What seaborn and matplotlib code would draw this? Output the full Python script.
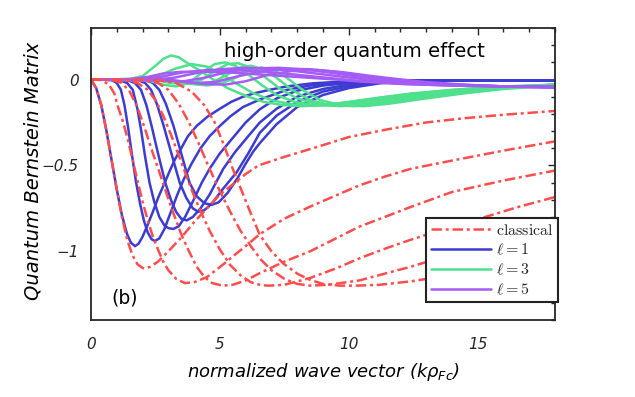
import numpy as np
import pandas as pd
import matplotlib
matplotlib.use("Agg")
import matplotlib.pyplot as plt
from matplotlib.lines import Line2D
from matplotlib.ticker import MultipleLocator, FuncFormatter
import seaborn as sns

# ---------------- data ----------------
# classical (red, dash-dot)
R1_x = [0, 0.2, 0.4, 0.6, 0.8, 1.0, 1.2, 1.4, 1.6, 1.8, 2.0, 2.1, 2.3, 2.6, 3.0, 3.5, 4.0, 4.5, 5.0, 5.5, 6.0, 6.5, 7.5, 8.5, 10, 11.5, 13, 14.5, 16, 18]
R1_y = [0, -0.05, -0.15, -0.30, -0.47, -0.64, -0.80, -0.93, -1.02, -1.075, -1.097, -1.10, -1.09, -1.06, -1.00, -0.92, -0.83, -0.75, -0.67, -0.61, -0.55, -0.50, -0.45, -0.405, -0.335, -0.29, -0.25, -0.225, -0.205, -0.183]
R2_x = [0, 0.4, 0.7, 0.9, 1.05, 1.25, 1.43, 1.62, 1.82, 2.0, 2.2, 2.4, 2.6, 2.8, 3.0, 3.3, 3.64, 4.0, 4.5, 5.1, 5.5, 6.0, 6.55, 7.5, 8.5, 9.5, 10.4, 11.4, 12.4, 14, 16, 18]
R2_y = [0, -0.003, -0.03, -0.08, -0.16, -0.25, -0.35, -0.47, -0.60, -0.71, -0.82, -0.915, -0.99, -1.06, -1.11, -1.16, -1.185, -1.18, -1.15, -1.08, -1.03, -0.97, -0.90, -0.81, -0.74, -0.675, -0.617, -0.565, -0.52, -0.472, -0.414, -0.36]
R3_x = [0, 0.8, 1.2, 1.5, 1.8, 2.1, 2.4, 2.61, 2.9, 3.2, 3.5, 3.8, 4.1, 4.4, 4.7, 5.1, 5.5, 6.0, 6.55, 7.5, 8.5, 9.5, 10.4, 11.4, 12.4, 14, 16, 18]
R3_y = [0, -0.002, -0.02, -0.07, -0.16, -0.29, -0.43, -0.52, -0.65, -0.78, -0.90, -1.00, -1.09, -1.15, -1.185, -1.20, -1.195, -1.17, -1.127, -1.06, -1.00, -0.925, -0.857, -0.80, -0.742, -0.655, -0.588, -0.53]
R4_x = [0, 1.3, 1.8, 2.2, 2.5, 2.8, 3.1, 3.35, 3.6, 3.9, 4.2, 4.6, 5.0, 5.4, 5.8, 6.2, 6.6, 6.9, 7.5, 8.49, 9.5, 10.43, 11.4, 12.36, 13.5, 15.08, 16.5, 18]
R4_y = [0, -0.003, -0.02, -0.06, -0.12, -0.21, -0.32, -0.42, -0.52, -0.64, -0.75, -0.88, -0.99, -1.08, -1.14, -1.18, -1.197, -1.20, -1.195, -1.156, -1.10, -1.04, -0.985, -0.935, -0.88, -0.81, -0.745, -0.684]
R5_x = [0, 2.0, 2.6, 3.0, 3.4, 3.8, 4.2, 4.6, 5.0, 5.4, 5.8, 6.2, 6.6, 7.0, 7.5, 8.0, 8.5, 9.2, 10.4, 11.4, 12.4, 13.5, 15, 16.5, 18]
R5_y = [0, -0.003, -0.02, -0.06, -0.14, -0.25, -0.38, -0.52, -0.65, -0.77, -0.88, -0.97, -1.05, -1.11, -1.16, -1.19, -1.20, -1.195, -1.17, -1.13, -1.09, -1.04, -0.97, -0.90, -0.83]
R6_x = [0, 2.6, 3.3, 3.9, 4.4, 4.8, 5.15, 5.5, 5.85, 6.2, 6.55, 7.0, 7.45, 8.0, 8.49, 9.0, 9.65, 10.3, 11.2, 12.4, 13.5, 15, 16.5, 18]
R6_y = [0, -0.003, -0.02, -0.07, -0.15, -0.25, -0.38, -0.52, -0.65, -0.78, -0.905, -1.00, -1.07, -1.13, -1.166, -1.19, -1.20, -1.20, -1.195, -1.175, -1.15, -1.10, -1.04, -0.98]

# l = 1 (blue)
B1_x = [0, 0.2, 0.4, 0.6, 0.8, 1.0, 1.2, 1.4, 1.55, 1.71, 1.85, 2.0, 2.2, 2.4, 2.6, 2.86, 3.06, 3.24, 3.5, 3.76, 4.1, 4.53, 5.0, 5.44, 5.9, 6.34, 6.86, 7.6, 8.6, 10, 12, 14, 18]
B1_y = [0, -0.05, -0.15, -0.30, -0.47, -0.64, -0.79, -0.90, -0.95, -0.97, -0.955, -0.915, -0.845, -0.77, -0.69, -0.60, -0.53, -0.47, -0.40, -0.33, -0.27, -0.215, -0.17, -0.13, -0.10, -0.08, -0.062, -0.04, -0.022, -0.01, -0.005, -0.005, -0.005]
B2_x = [0, 0.8, 1.0, 1.16, 1.3, 1.45, 1.6, 1.75, 1.9, 2.05, 2.2, 2.35, 2.48, 2.65, 2.85, 3.1, 3.35, 3.6, 3.9, 4.25, 4.6, 5.0, 5.4, 5.9, 6.55, 7.6, 8.5, 9.4, 11, 13, 18]
B2_y = [0, -0.003, -0.02, -0.06, -0.15, -0.29, -0.45, -0.60, -0.72, -0.82, -0.89, -0.93, -0.94, -0.925, -0.87, -0.77, -0.67, -0.58, -0.49, -0.40, -0.33, -0.27, -0.215, -0.16, -0.116, -0.06, -0.035, -0.022, -0.01, -0.005, -0.005]
B3_x = [0, 1.1, 1.4, 1.62, 1.8, 1.95, 2.1, 2.27, 2.45, 2.65, 2.85, 3.0, 3.19, 3.4, 3.65, 3.95, 4.3, 4.6, 5.0, 5.5, 6.0, 6.55, 7.2, 8.0, 9.0, 9.9, 11, 13, 18]
B3_y = [0, -0.003, -0.02, -0.06, -0.17, -0.30, -0.45, -0.60, -0.71, -0.80, -0.85, -0.865, -0.87, -0.855, -0.80, -0.71, -0.60, -0.52, -0.43, -0.34, -0.25, -0.173, -0.11, -0.065, -0.035, -0.022, -0.012, -0.005, -0.005]
B4_x = [0, 1.4, 1.7, 1.94, 2.15, 2.35, 2.6, 2.88, 3.1, 3.3, 3.5, 3.71, 3.95, 4.25, 4.6, 5.13, 5.6, 6.1, 6.55, 7.2, 8.0, 9.0, 10.0, 10.5, 12, 14, 18]
B4_y = [0, -0.003, -0.02, -0.06, -0.15, -0.27, -0.43, -0.60, -0.70, -0.77, -0.81, -0.82, -0.80, -0.75, -0.67, -0.52, -0.42, -0.33, -0.25, -0.17, -0.10, -0.055, -0.03, -0.022, -0.01, -0.005, -0.005]
B5_x = [0, 1.8, 2.1, 2.33, 2.55, 2.8, 3.1, 3.44, 3.7, 3.95, 4.16, 4.4, 4.7, 5.1, 5.65, 6.1, 6.55, 7.2, 8.0, 9.0, 10.0, 10.9, 12, 14, 18]
B5_y = [0, -0.003, -0.02, -0.06, -0.14, -0.26, -0.42, -0.60, -0.69, -0.75, -0.77, -0.76, -0.72, -0.64, -0.54, -0.43, -0.31, -0.21, -0.13, -0.07, -0.04, -0.022, -0.012, -0.005, -0.005]
B6_x = [0, 2.1, 2.4, 2.65, 2.9, 3.2, 3.5, 3.82, 4.1, 4.4, 4.67, 4.95, 5.3, 5.7, 6.0, 6.29, 6.55, 7.2, 8.0, 9.0, 10.0, 11.2, 12.5, 14, 18]
B6_y = [0, -0.003, -0.02, -0.06, -0.14, -0.27, -0.43, -0.60, -0.68, -0.72, -0.73, -0.715, -0.66, -0.57, -0.49, -0.42, -0.37, -0.26, -0.16, -0.09, -0.05, -0.022, -0.01, -0.005, -0.005]

# l = 3 (green)
G1_x = [0, 1.5, 2.0, 2.5, 2.8, 3.1, 3.4, 3.8, 4.3, 4.74, 5.3, 6.0, 6.7, 7.4, 8.2, 9.0, 10, 11, 12.5, 15, 18]
G1_y = [0, 0.003, 0.02, 0.08, 0.12, 0.14, 0.13, 0.09, 0.045, 0.0, -0.05, -0.095, -0.13, -0.148, -0.155, -0.15, -0.133, -0.11, -0.08, -0.05, -0.03]
G2_x = [0, 2.0, 2.6, 3.2, 3.9, 4.5, 5.1, 5.6, 6.3, 7.0, 7.8, 8.6, 9.5, 10.5, 12, 14, 16, 18]
G2_y = [0, 0.003, 0.02, 0.06, 0.09, 0.075, 0.03, -0.02, -0.08, -0.12, -0.145, -0.15, -0.14, -0.12, -0.09, -0.06, -0.04, -0.03]
G3_x = [0, 2.2, 2.8, 3.3, 3.8, 4.3, 4.8, 5.2, 5.6, 6.1, 6.6, 7.2, 7.9, 8.7, 9.6, 10.6, 12, 14, 16, 18]
G3_y = [0, -0.005, -0.03, -0.04, -0.02, 0.04, 0.09, 0.10, 0.08, 0.03, -0.03, -0.09, -0.13, -0.15, -0.15, -0.13, -0.10, -0.065, -0.045, -0.03]
G4_x = [0, 2.5, 3.1, 3.8, 4.3, 4.8, 5.3, 5.7, 6.2, 6.7, 7.3, 8.0, 8.8, 9.7, 10.7, 12, 14, 16, 18]
G4_y = [0, -0.003, -0.02, -0.025, 0.0, 0.05, 0.09, 0.095, 0.07, 0.02, -0.05, -0.11, -0.145, -0.155, -0.14, -0.11, -0.07, -0.045, -0.03]
G5_x = [0, 2.8, 3.5, 4.2, 4.8, 5.3, 5.8, 6.2, 6.7, 7.2, 7.8, 8.5, 9.3, 10.2, 11.2, 12.5, 14, 16, 18]
G5_y = [0, -0.003, -0.02, -0.03, -0.01, 0.03, 0.07, 0.08, 0.06, 0.01, -0.06, -0.12, -0.15, -0.155, -0.14, -0.11, -0.08, -0.05, -0.03]
G6_x = [0, 3.0, 3.8, 4.5, 5.1, 5.6, 6.1, 6.6, 7.1, 7.6, 8.2, 8.9, 9.7, 10.6, 11.6, 13, 14.5, 16, 18]
G6_y = [0, -0.003, -0.02, -0.035, -0.02, 0.01, 0.05, 0.07, 0.055, 0.01, -0.06, -0.12, -0.15, -0.155, -0.14, -0.11, -0.08, -0.055, -0.035]

# l = 5 (purple)
P1_x = [0, 1.5, 2.2, 2.8, 3.5, 4.5, 5.5, 6.5, 7.5, 8.5, 9.5, 10.5, 12, 14, 16, 18]
P1_y = [0, 0.002, 0.015, 0.035, 0.045, 0.045, 0.04, 0.03, 0.02, 0.01, 0.0, -0.012, -0.025, -0.035, -0.04, -0.04]
P2_x = [0, 2.0, 2.7, 3.5, 4.5, 5.5, 6.5, 7.5, 8.5, 9.5, 10.5, 12, 14, 16, 18]
P2_y = [0, 0.003, 0.015, 0.04, 0.055, 0.055, 0.048, 0.035, 0.02, 0.005, -0.01, -0.025, -0.035, -0.04, -0.042]
P3_x = [0, 2.5, 3.2, 4.0, 5.0, 6.0, 7.0, 8.0, 9.0, 10.0, 11.0, 12.5, 14, 16, 18]
P3_y = [0, 0.0, 0.01, 0.035, 0.06, 0.068, 0.062, 0.048, 0.03, 0.012, -0.005, -0.022, -0.032, -0.04, -0.044]
P4_x = [0, 2.8, 3.6, 4.4, 5.3, 6.3, 7.3, 8.3, 9.3, 10.3, 11.3, 12.5, 14, 16, 18]
P4_y = [0, -0.005, -0.01, 0.01, 0.045, 0.065, 0.068, 0.058, 0.04, 0.018, 0.0, -0.018, -0.03, -0.04, -0.045]
P5_x = [0, 3.0, 4.0, 4.8, 5.6, 6.5, 7.5, 8.5, 9.5, 10.5, 11.5, 12.7, 14, 16, 18]
P5_y = [0, -0.005, -0.02, -0.015, 0.015, 0.045, 0.062, 0.06, 0.045, 0.022, 0.003, -0.015, -0.028, -0.04, -0.046]
P6_x = [0, 3.2, 4.3, 5.2, 6.0, 6.8, 7.8, 8.8, 9.8, 10.8, 11.8, 13, 14.5, 16, 18]
P6_y = [0, -0.005, -0.025, -0.03, -0.01, 0.025, 0.05, 0.055, 0.042, 0.022, 0.004, -0.015, -0.03, -0.04, -0.048]

legend_labels = [r"$\mathrm{classical}$", r"$\ell = 1$", r"$\ell = 3$", r"$\ell = 5$"]
x_ticks = [0, 5, 10, 15]
y_ticks = [-1, -0.5, 0]

# ---------------- styling ----------------
RED, BLUE, GREEN, PURPLE = "#FF4D4D", "#3C3CD2", "#4FE08E", "#A55BF5"
DASHDOT = (0, (4.2, 1.5, 1.2, 1.5))
LW = 1.8

sns.set_theme(style="white")
plt.rcParams["font.family"] = ["DejaVu Sans"]
plt.rcParams["mathtext.fontset"] = "cm"
plt.rcParams["axes.unicode_minus"] = True

fig = plt.figure(figsize=(6.35, 3.97), dpi=100)
ax = fig.add_axes([91 / 635, 1 - 320 / 397, (555 - 91) / 635, (320 - 28) / 397])

def draw(xs, ys, color, ls="-"):
    sns.lineplot(x=xs, y=ys, ax=ax, color=color, linewidth=LW, linestyle=ls,
                 estimator=None, sort=False, legend=False)

for xs, ys in [(B1_x, B1_y), (B2_x, B2_y), (B3_x, B3_y), (B4_x, B4_y), (B5_x, B5_y), (B6_x, B6_y)]:
    draw(xs, ys, BLUE)
for xs, ys in [(G1_x, G1_y), (G2_x, G2_y), (G3_x, G3_y), (G4_x, G4_y), (G5_x, G5_y), (G6_x, G6_y)]:
    draw(xs, ys, GREEN)
for xs, ys in [(P1_x, P1_y), (P2_x, P2_y), (P3_x, P3_y), (P4_x, P4_y), (P5_x, P5_y), (P6_x, P6_y)]:
    draw(xs, ys, PURPLE)
for xs, ys in [(R1_x, R1_y), (R2_x, R2_y), (R3_x, R3_y), (R4_x, R4_y), (R5_x, R5_y), (R6_x, R6_y)]:
    draw(xs, ys, RED, DASHDOT)

ax.set_xlim(0, 18)
ax.set_ylim(-1.4, 0.3)
ax.set_xticks(x_ticks)
ax.set_yticks(y_ticks)
ax.xaxis.set_minor_locator(MultipleLocator(1))
ax.yaxis.set_minor_locator(MultipleLocator(0.1))

def fmt(v, pos):
    return ("%g" % v).replace("-", "\u2212")
ax.xaxis.set_major_formatter(FuncFormatter(fmt))
ax.yaxis.set_major_formatter(FuncFormatter(fmt))

dark = "#262626"
for sp in ax.spines.values():
    sp.set_visible(True)
    sp.set_color(dark)
    sp.set_linewidth(1.3)
ax.tick_params(which="both", direction="in", top=True, right=True, colors=dark,
               labelsize=11, width=1.0)
ax.tick_params(axis="x", which="major", length=5, pad=12)
ax.tick_params(axis="y", which="major", length=5, pad=9)
ax.tick_params(which="minor", length=3)
for lab in ax.get_xticklabels() + ax.get_yticklabels():
    lab.set_fontstyle("italic")

ax.set_xlabel(r"normalized wave vector (k$\rho_{Fc}$)", fontsize=13, fontstyle="italic",
              color="black", labelpad=7)
ax.xaxis.label.set_math_fontfamily("dejavusans")
ax.set_ylabel("Quantum Bernstein Matrix", fontsize=14, fontstyle="italic", color="black")
ax.yaxis.set_label_coords(-0.104, 0.51)

ax.text(0.567, 0.918, "high-order quantum effect", transform=ax.transAxes, ha="center",
        va="center", fontsize=14.2, color="black")
ax.text(0.072, 0.077, "(b)", transform=ax.transAxes, ha="center", va="center",
        fontsize=13.5, color="black")

handles = [Line2D([], [], color=RED, lw=LW, linestyle=DASHDOT),
           Line2D([], [], color=BLUE, lw=LW),
           Line2D([], [], color=GREEN, lw=LW),
           Line2D([], [], color=PURPLE, lw=LW)]
leg = ax.legend(handles, legend_labels, loc="lower right", bbox_to_anchor=(1.0065, 0.0616),
                fontsize=11.5, frameon=True, fancybox=False, framealpha=1,
                edgecolor="#222222", handlelength=3.75, labelspacing=0.28,
                borderpad=0.3, handletextpad=0.3, borderaxespad=0.0)
leg.get_frame().set_linewidth(1.5)

fig.savefig("out.png", dpi=100)
